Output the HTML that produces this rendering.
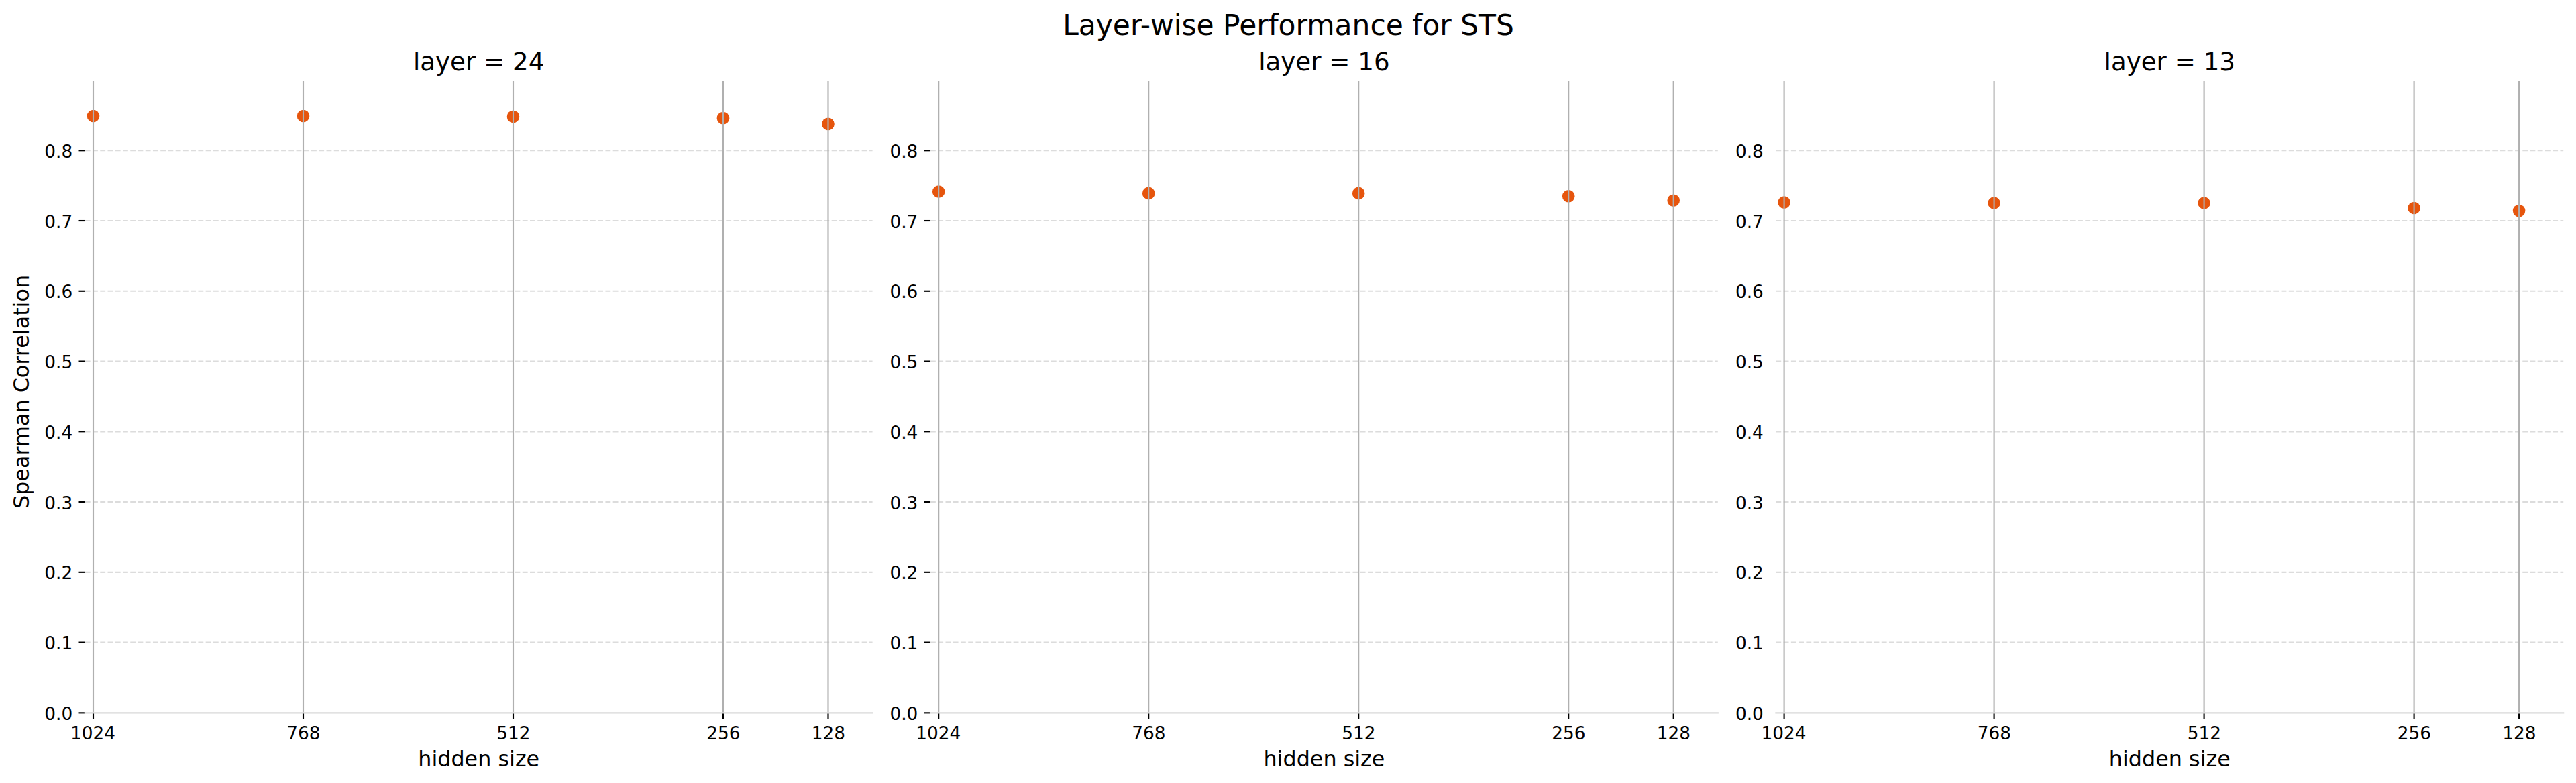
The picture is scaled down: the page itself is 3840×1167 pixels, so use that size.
<!DOCTYPE html>
<html><head><meta charset="utf-8"><title>Layer-wise Performance for STS</title>
<style>
html,body{margin:0;padding:0;background:#fff;}
body{width:3840px;height:1167px;overflow:hidden;}
svg{display:block;}
text{font-family:"DejaVu Sans","Liberation Sans",sans-serif;fill:#000;}
.t10{font-size:26.35px}.t12{font-size:31.82px}.t14{font-size:37.20px}.t16{font-size:42.42px}
</style></head><body>
<svg width="3840" height="1167" viewBox="0 0 3840 1167">
<rect width="3840" height="1167" fill="#fff"/>
<text class="t16" x="1920.5" y="51.5" text-anchor="middle">Layer-wise Performance for STS</text>
<g transform="translate(0.00,0)">
<line x1="126.80" y1="957.59" x2="1300.60" y2="957.59" stroke="#dcdcdc" stroke-width="2.13" stroke-dasharray="7.848 3.393"/>
<line x1="126.80" y1="852.83" x2="1300.60" y2="852.83" stroke="#dcdcdc" stroke-width="2.13" stroke-dasharray="7.848 3.393"/>
<line x1="126.80" y1="748.07" x2="1300.60" y2="748.07" stroke="#dcdcdc" stroke-width="2.13" stroke-dasharray="7.848 3.393"/>
<line x1="126.80" y1="643.31" x2="1300.60" y2="643.31" stroke="#dcdcdc" stroke-width="2.13" stroke-dasharray="7.848 3.393"/>
<line x1="126.80" y1="538.55" x2="1300.60" y2="538.55" stroke="#dcdcdc" stroke-width="2.13" stroke-dasharray="7.848 3.393"/>
<line x1="126.80" y1="433.79" x2="1300.60" y2="433.79" stroke="#dcdcdc" stroke-width="2.13" stroke-dasharray="7.848 3.393"/>
<line x1="126.80" y1="329.03" x2="1300.60" y2="329.03" stroke="#dcdcdc" stroke-width="2.13" stroke-dasharray="7.848 3.393"/>
<line x1="126.80" y1="224.27" x2="1300.60" y2="224.27" stroke="#dcdcdc" stroke-width="2.13" stroke-dasharray="7.848 3.393"/>
<circle cx="139.00" cy="173.00" r="9.30" fill="#e6550d"/>
<circle cx="452.00" cy="172.95" r="9.30" fill="#e6550d"/>
<circle cx="765.00" cy="173.95" r="9.30" fill="#e6550d"/>
<circle cx="1078.00" cy="176.15" r="9.30" fill="#e6550d"/>
<circle cx="1234.50" cy="184.90" r="9.30" fill="#e6550d"/>
<line x1="139.00" y1="120.60" x2="139.00" y2="1062.35" stroke="#b0b0b0" stroke-width="2.13"/>
<line x1="452.00" y1="120.60" x2="452.00" y2="1062.35" stroke="#b0b0b0" stroke-width="2.13"/>
<line x1="765.00" y1="120.60" x2="765.00" y2="1062.35" stroke="#b0b0b0" stroke-width="2.13"/>
<line x1="1078.00" y1="120.60" x2="1078.00" y2="1062.35" stroke="#b0b0b0" stroke-width="2.13"/>
<line x1="1234.50" y1="120.60" x2="1234.50" y2="1062.35" stroke="#b0b0b0" stroke-width="2.13"/>
<line x1="117.50" y1="1062.35" x2="126.80" y2="1062.35" stroke="#000" stroke-width="2.13"/>
<line x1="117.50" y1="957.59" x2="126.80" y2="957.59" stroke="#000" stroke-width="2.13"/>
<line x1="117.50" y1="852.83" x2="126.80" y2="852.83" stroke="#000" stroke-width="2.13"/>
<line x1="117.50" y1="748.07" x2="126.80" y2="748.07" stroke="#000" stroke-width="2.13"/>
<line x1="117.50" y1="643.31" x2="126.80" y2="643.31" stroke="#000" stroke-width="2.13"/>
<line x1="117.50" y1="538.55" x2="126.80" y2="538.55" stroke="#000" stroke-width="2.13"/>
<line x1="117.50" y1="433.79" x2="126.80" y2="433.79" stroke="#000" stroke-width="2.13"/>
<line x1="117.50" y1="329.03" x2="126.80" y2="329.03" stroke="#000" stroke-width="2.13"/>
<line x1="117.50" y1="224.27" x2="126.80" y2="224.27" stroke="#000" stroke-width="2.13"/>
<line x1="139.00" y1="1062.35" x2="139.00" y2="1071.65" stroke="#000" stroke-width="2.13"/>
<line x1="452.00" y1="1062.35" x2="452.00" y2="1071.65" stroke="#000" stroke-width="2.13"/>
<line x1="765.00" y1="1062.35" x2="765.00" y2="1071.65" stroke="#000" stroke-width="2.13"/>
<line x1="1078.00" y1="1062.35" x2="1078.00" y2="1071.65" stroke="#000" stroke-width="2.13"/>
<line x1="1234.50" y1="1062.35" x2="1234.50" y2="1071.65" stroke="#000" stroke-width="2.13"/>
<line x1="125.73" y1="1062.35" x2="1301.66" y2="1062.35" stroke="#d8d8d8" stroke-width="2.13"/>
<text class="t10" x="138.50" y="1101.60" text-anchor="middle">1024</text>
<text class="t10" x="452.30" y="1101.60" text-anchor="middle">768</text>
<text class="t10" x="765.30" y="1101.60" text-anchor="middle">512</text>
<text class="t10" x="1078.30" y="1101.60" text-anchor="middle">256</text>
<text class="t10" x="1234.80" y="1101.60" text-anchor="middle">128</text>
<text class="t10" x="108.20" y="1072.85" text-anchor="end">0.0</text>
<text class="t10" x="108.20" y="968.09" text-anchor="end">0.1</text>
<text class="t10" x="108.20" y="863.33" text-anchor="end">0.2</text>
<text class="t10" x="108.20" y="758.57" text-anchor="end">0.3</text>
<text class="t10" x="108.20" y="653.81" text-anchor="end">0.4</text>
<text class="t10" x="108.20" y="549.05" text-anchor="end">0.5</text>
<text class="t10" x="108.20" y="444.29" text-anchor="end">0.6</text>
<text class="t10" x="108.20" y="339.53" text-anchor="end">0.7</text>
<text class="t10" x="108.20" y="234.77" text-anchor="end">0.8</text>
<text class="t14" x="713.70" y="104.90" text-anchor="middle">layer = 24</text>
<text class="t12" x="713.70" y="1142.25" text-anchor="middle">hidden size</text>
</g>
<g transform="translate(1260.20,0)">
<line x1="126.80" y1="957.59" x2="1300.60" y2="957.59" stroke="#dcdcdc" stroke-width="2.13" stroke-dasharray="7.848 3.393"/>
<line x1="126.80" y1="852.83" x2="1300.60" y2="852.83" stroke="#dcdcdc" stroke-width="2.13" stroke-dasharray="7.848 3.393"/>
<line x1="126.80" y1="748.07" x2="1300.60" y2="748.07" stroke="#dcdcdc" stroke-width="2.13" stroke-dasharray="7.848 3.393"/>
<line x1="126.80" y1="643.31" x2="1300.60" y2="643.31" stroke="#dcdcdc" stroke-width="2.13" stroke-dasharray="7.848 3.393"/>
<line x1="126.80" y1="538.55" x2="1300.60" y2="538.55" stroke="#dcdcdc" stroke-width="2.13" stroke-dasharray="7.848 3.393"/>
<line x1="126.80" y1="433.79" x2="1300.60" y2="433.79" stroke="#dcdcdc" stroke-width="2.13" stroke-dasharray="7.848 3.393"/>
<line x1="126.80" y1="329.03" x2="1300.60" y2="329.03" stroke="#dcdcdc" stroke-width="2.13" stroke-dasharray="7.848 3.393"/>
<line x1="126.80" y1="224.27" x2="1300.60" y2="224.27" stroke="#dcdcdc" stroke-width="2.13" stroke-dasharray="7.848 3.393"/>
<circle cx="139.00" cy="285.50" r="9.30" fill="#e6550d"/>
<circle cx="452.00" cy="287.90" r="9.30" fill="#e6550d"/>
<circle cx="765.00" cy="287.90" r="9.30" fill="#e6550d"/>
<circle cx="1078.00" cy="292.30" r="9.30" fill="#e6550d"/>
<circle cx="1234.50" cy="298.70" r="9.30" fill="#e6550d"/>
<line x1="139.00" y1="120.60" x2="139.00" y2="1062.35" stroke="#b0b0b0" stroke-width="2.13"/>
<line x1="452.00" y1="120.60" x2="452.00" y2="1062.35" stroke="#b0b0b0" stroke-width="2.13"/>
<line x1="765.00" y1="120.60" x2="765.00" y2="1062.35" stroke="#b0b0b0" stroke-width="2.13"/>
<line x1="1078.00" y1="120.60" x2="1078.00" y2="1062.35" stroke="#b0b0b0" stroke-width="2.13"/>
<line x1="1234.50" y1="120.60" x2="1234.50" y2="1062.35" stroke="#b0b0b0" stroke-width="2.13"/>
<line x1="117.50" y1="1062.35" x2="126.80" y2="1062.35" stroke="#000" stroke-width="2.13"/>
<line x1="117.50" y1="957.59" x2="126.80" y2="957.59" stroke="#000" stroke-width="2.13"/>
<line x1="117.50" y1="852.83" x2="126.80" y2="852.83" stroke="#000" stroke-width="2.13"/>
<line x1="117.50" y1="748.07" x2="126.80" y2="748.07" stroke="#000" stroke-width="2.13"/>
<line x1="117.50" y1="643.31" x2="126.80" y2="643.31" stroke="#000" stroke-width="2.13"/>
<line x1="117.50" y1="538.55" x2="126.80" y2="538.55" stroke="#000" stroke-width="2.13"/>
<line x1="117.50" y1="433.79" x2="126.80" y2="433.79" stroke="#000" stroke-width="2.13"/>
<line x1="117.50" y1="329.03" x2="126.80" y2="329.03" stroke="#000" stroke-width="2.13"/>
<line x1="117.50" y1="224.27" x2="126.80" y2="224.27" stroke="#000" stroke-width="2.13"/>
<line x1="139.00" y1="1062.35" x2="139.00" y2="1071.65" stroke="#000" stroke-width="2.13"/>
<line x1="452.00" y1="1062.35" x2="452.00" y2="1071.65" stroke="#000" stroke-width="2.13"/>
<line x1="765.00" y1="1062.35" x2="765.00" y2="1071.65" stroke="#000" stroke-width="2.13"/>
<line x1="1078.00" y1="1062.35" x2="1078.00" y2="1071.65" stroke="#000" stroke-width="2.13"/>
<line x1="1234.50" y1="1062.35" x2="1234.50" y2="1071.65" stroke="#000" stroke-width="2.13"/>
<line x1="125.73" y1="1062.35" x2="1301.66" y2="1062.35" stroke="#d8d8d8" stroke-width="2.13"/>
<text class="t10" x="138.50" y="1101.60" text-anchor="middle">1024</text>
<text class="t10" x="452.30" y="1101.60" text-anchor="middle">768</text>
<text class="t10" x="765.30" y="1101.60" text-anchor="middle">512</text>
<text class="t10" x="1078.30" y="1101.60" text-anchor="middle">256</text>
<text class="t10" x="1234.80" y="1101.60" text-anchor="middle">128</text>
<text class="t10" x="108.20" y="1072.85" text-anchor="end">0.0</text>
<text class="t10" x="108.20" y="968.09" text-anchor="end">0.1</text>
<text class="t10" x="108.20" y="863.33" text-anchor="end">0.2</text>
<text class="t10" x="108.20" y="758.57" text-anchor="end">0.3</text>
<text class="t10" x="108.20" y="653.81" text-anchor="end">0.4</text>
<text class="t10" x="108.20" y="549.05" text-anchor="end">0.5</text>
<text class="t10" x="108.20" y="444.29" text-anchor="end">0.6</text>
<text class="t10" x="108.20" y="339.53" text-anchor="end">0.7</text>
<text class="t10" x="108.20" y="234.77" text-anchor="end">0.8</text>
<text class="t14" x="713.70" y="104.90" text-anchor="middle">layer = 16</text>
<text class="t12" x="713.70" y="1142.25" text-anchor="middle">hidden size</text>
</g>
<g transform="translate(2520.60,0)">
<line x1="126.80" y1="957.59" x2="1300.60" y2="957.59" stroke="#dcdcdc" stroke-width="2.13" stroke-dasharray="7.848 3.393"/>
<line x1="126.80" y1="852.83" x2="1300.60" y2="852.83" stroke="#dcdcdc" stroke-width="2.13" stroke-dasharray="7.848 3.393"/>
<line x1="126.80" y1="748.07" x2="1300.60" y2="748.07" stroke="#dcdcdc" stroke-width="2.13" stroke-dasharray="7.848 3.393"/>
<line x1="126.80" y1="643.31" x2="1300.60" y2="643.31" stroke="#dcdcdc" stroke-width="2.13" stroke-dasharray="7.848 3.393"/>
<line x1="126.80" y1="538.55" x2="1300.60" y2="538.55" stroke="#dcdcdc" stroke-width="2.13" stroke-dasharray="7.848 3.393"/>
<line x1="126.80" y1="433.79" x2="1300.60" y2="433.79" stroke="#dcdcdc" stroke-width="2.13" stroke-dasharray="7.848 3.393"/>
<line x1="126.80" y1="329.03" x2="1300.60" y2="329.03" stroke="#dcdcdc" stroke-width="2.13" stroke-dasharray="7.848 3.393"/>
<line x1="126.80" y1="224.27" x2="1300.60" y2="224.27" stroke="#dcdcdc" stroke-width="2.13" stroke-dasharray="7.848 3.393"/>
<circle cx="139.00" cy="301.60" r="9.30" fill="#e6550d"/>
<circle cx="452.00" cy="302.50" r="9.30" fill="#e6550d"/>
<circle cx="765.00" cy="302.50" r="9.30" fill="#e6550d"/>
<circle cx="1078.00" cy="310.00" r="9.30" fill="#e6550d"/>
<circle cx="1234.50" cy="314.10" r="9.30" fill="#e6550d"/>
<line x1="139.00" y1="120.60" x2="139.00" y2="1062.35" stroke="#b0b0b0" stroke-width="2.13"/>
<line x1="452.00" y1="120.60" x2="452.00" y2="1062.35" stroke="#b0b0b0" stroke-width="2.13"/>
<line x1="765.00" y1="120.60" x2="765.00" y2="1062.35" stroke="#b0b0b0" stroke-width="2.13"/>
<line x1="1078.00" y1="120.60" x2="1078.00" y2="1062.35" stroke="#b0b0b0" stroke-width="2.13"/>
<line x1="1234.50" y1="120.60" x2="1234.50" y2="1062.35" stroke="#b0b0b0" stroke-width="2.13"/>
<line x1="139.00" y1="1062.35" x2="139.00" y2="1071.65" stroke="#000" stroke-width="2.13"/>
<line x1="452.00" y1="1062.35" x2="452.00" y2="1071.65" stroke="#000" stroke-width="2.13"/>
<line x1="765.00" y1="1062.35" x2="765.00" y2="1071.65" stroke="#000" stroke-width="2.13"/>
<line x1="1078.00" y1="1062.35" x2="1078.00" y2="1071.65" stroke="#000" stroke-width="2.13"/>
<line x1="1234.50" y1="1062.35" x2="1234.50" y2="1071.65" stroke="#000" stroke-width="2.13"/>
<line x1="125.73" y1="1062.35" x2="1301.66" y2="1062.35" stroke="#d8d8d8" stroke-width="2.13"/>
<text class="t10" x="138.50" y="1101.60" text-anchor="middle">1024</text>
<text class="t10" x="452.30" y="1101.60" text-anchor="middle">768</text>
<text class="t10" x="765.30" y="1101.60" text-anchor="middle">512</text>
<text class="t10" x="1078.30" y="1101.60" text-anchor="middle">256</text>
<text class="t10" x="1234.80" y="1101.60" text-anchor="middle">128</text>
<text class="t10" x="108.20" y="1072.85" text-anchor="end">0.0</text>
<text class="t10" x="108.20" y="968.09" text-anchor="end">0.1</text>
<text class="t10" x="108.20" y="863.33" text-anchor="end">0.2</text>
<text class="t10" x="108.20" y="758.57" text-anchor="end">0.3</text>
<text class="t10" x="108.20" y="653.81" text-anchor="end">0.4</text>
<text class="t10" x="108.20" y="549.05" text-anchor="end">0.5</text>
<text class="t10" x="108.20" y="444.29" text-anchor="end">0.6</text>
<text class="t10" x="108.20" y="339.53" text-anchor="end">0.7</text>
<text class="t10" x="108.20" y="234.77" text-anchor="end">0.8</text>
<text class="t14" x="713.70" y="104.90" text-anchor="middle">layer = 13</text>
<text class="t12" x="713.70" y="1142.25" text-anchor="middle">hidden size</text>
</g>
<text class="t12" transform="translate(42.7,584) rotate(-90)" text-anchor="middle">Spearman Correlation</text>
</svg>
</body></html>
